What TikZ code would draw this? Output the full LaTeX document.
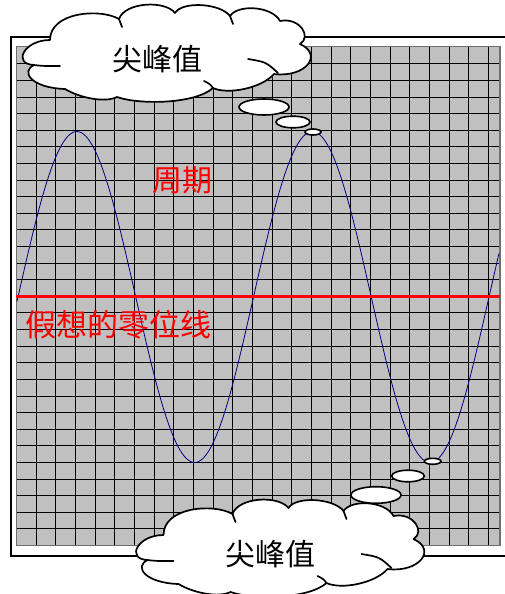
\documentclass[tikz,border=0pt]{standalone}
\usepackage{fontspec}
\newfontfamily\cjk{Noto Sans CJK SC}
\definecolor{navy}{RGB}{0,0,128}
\definecolor{gridgray}{RGB}{192,192,192}
\definecolor{edgegray}{RGB}{110,110,110}
\definecolor{pured}{RGB}{255,0,0}
\newcommand\mycloudpath{%
  (34,-65) .. controls (20,-72) and (32,-88) .. (65,-89)
  .. controls (80,-98) and (105,-103) .. (117,-97)
  .. controls (140,-105) and (195,-104) .. (213,-88)
  .. controls (228,-95) and (262,-88) .. (274,-74)
  .. controls (305,-78) and (324,-55) .. (300,-44)
  .. controls (312,-37) and (300,-17) .. (280,-21)
  .. controls (272,-6) and (238,-4) .. (230,-16)
  .. controls (220,-3) and (182,-1) .. (175,-13)
  .. controls (165,0) and (125,-2) .. (119,-19)
  .. controls (100,-8) and (50,-12) .. (50,-40)
  .. controls (24,-40) and (12,-64) .. (34,-65) -- cycle}
\newcommand\mycloudinner{%
  (34,-65) .. controls (42,-66) .. (60,-66)
  (119,-19) .. controls (120,-23) .. (122,-27)
  (230,-16) .. controls (231,-20) .. (233,-24)
  (248,-59) .. controls (266,-62) .. (278,-73)
  (213,-88) .. controls (210,-84) .. (204,-81)}
\begin{document}
\begin{tikzpicture}[x=1pt,y=1pt,
  gridline/.style={line width=1.6pt, draw=black},
  cloudline/.style={draw=black, line width=1.7pt, fill=white, line join=round},
  innerline/.style={draw=black, line width=1.7pt, line cap=round},
  bubble/.style={draw=black, line width=1.6pt, fill=white},
  cjklabel/.style={font=\cjk\fontsize{30}{30}\selectfont, inner sep=0pt},
]
\clip (0,0) rectangle (505,-594);
\fill[white] (0,0) rectangle (505,-594);
% outer frame
\draw[line width=2pt] (10.5,-37.5) rectangle (520,-555.5);
% grid
\fill[gridgray] (16,-46.5) rectangle (500,-545.5);
\foreach \i in {1,...,24} \draw[gridline] ({round(16+\i*19.667)+0.5},-46.5) -- ({round(16+\i*19.667)+0.5},-545.5);
\foreach \j in {1,...,29} \draw[gridline] (16,{-round(46.7+\j*16.61)-0.5}) -- (500,{-round(46.7+\j*16.61)-0.5});
\draw[line width=1.8pt, draw=edgegray] (16.5,-46.5) rectangle (500,-545.5);
% sine wave
\draw[navy, line width=0.8pt] plot[domain=17:499, samples=240, smooth] (\x,{-297+165.5*sin(((\x-18)/235.5)*360)});
% zero line
\draw[pured, line width=2.2pt] (16,-296.5) -- (500,-296.5);
% texts
\node[cjklabel, text=pured] (period) at (182.5,-180.5) {周期};
\node[cjklabel, text=pured, font=\cjk\fontsize{31}{31}\selectfont] (zeroline) at (118,-325) {假想的零位线};
% top cloud
\draw[cloudline] \mycloudpath;
\draw[innerline] \mycloudinner;
\node[cjklabel] (peaktop) at (157,-59.5) {尖峰值};
\draw[bubble] (264,-107) ellipse [x radius=25, y radius=8];
\draw[bubble] (293,-122) ellipse [x radius=17, y radius=5.8];
\draw[bubble] (313,-132) ellipse [x radius=8, y radius=3];
% bottom cloud
\begin{scope}[shift={(113.5,-495)}]
\draw[cloudline] \mycloudpath;
\draw[innerline] \mycloudinner;
\end{scope}
\node[cjklabel] (peakbot) at (270.5,-554) {尖峰值};
\draw[bubble] (376,-495) ellipse [x radius=25, y radius=8.3];
\draw[bubble] (408,-476) ellipse [x radius=16.3, y radius=5.8];
\draw[bubble] (432.7,-461.3) ellipse [x radius=8.3, y radius=3];
\end{tikzpicture}
\end{document}
